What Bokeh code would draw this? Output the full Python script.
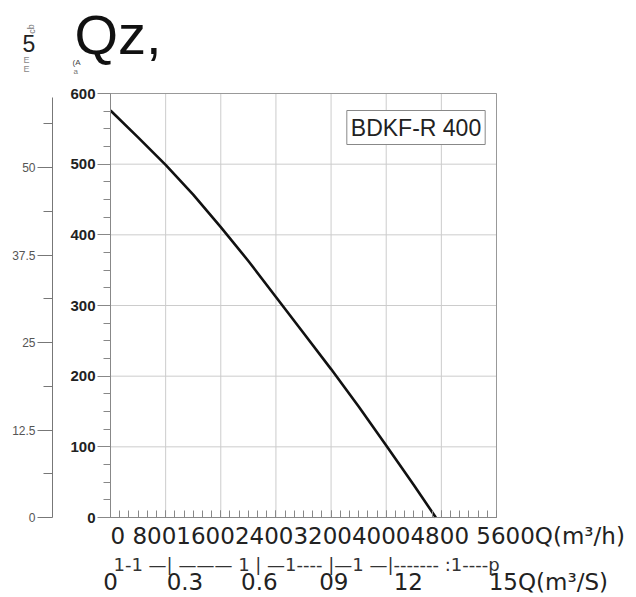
from bokeh.plotting import figure
from bokeh.models import Range1d, LinearAxis, FixedTicker, Label, SingleIntervalTicker
from bokeh.embed import file_html
from bokeh.resources import INLINE

# ---------------- data ----------------
FLOW_M3H = [0, 400, 800, 1200, 1600, 2000, 2400, 2800, 3200, 3600, 4000, 4400, 4720]
PRESSURE_PA = [576, 538, 499, 457, 411, 363, 312, 261, 210, 157, 102, 46, 0]

X_TICKS = [0, 800, 1600, 2400, 3200, 4000, 4800, 5600]
Y_TICKS = [0, 100, 200, 300, 400, 500, 600]
Y2_TICKS = [0, 12.5, 25, 37.5, 50]
Y2_LABELS = ["0", "12.5", "25", "37.5", "50"]
QS_TICKS = [0, 0.3, 0.6, 0.9, 1.2, 1.5]
QS_LABELS = ["0", "0.3", "0.6", "09", "12", "15Q(m³/S)"]
X_UNIT = "Q(m³/h)"
TICK_TRACE_TEXT = "1-1 —|  ———  1 | —1---- |—1  —|------- :1----p"
MODEL = "BDKF-R 400"
TITLE = "Qz,"

# ---------------- geometry (the frame covers the whole canvas) ----------------
XMAX, YMAX, Y2MAX = 5600, 600, 60.6
W, H = 636, 597
BOX_L, BOX_T, BOX_R, BOX_B = 110, 93, 496, 517          # plot box in canvas pixels
XPP = XMAX / (BOX_R - BOX_L)                             # data per pixel (x)
YPP = YMAX / (BOX_B - BOX_T)                             # data per pixel (y)
Y2PP = Y2MAX / (BOX_B - BOX_T)

x_range = Range1d(-BOX_L * XPP, (W - BOX_L) * XPP)
y_range = Range1d(-(H - BOX_B) * YPP, BOX_B * YPP)

p = figure(width=W, height=H, x_range=x_range, y_range=y_range,
           output_backend="svg", toolbar_location=None,
           min_border_left=0, min_border_right=0, min_border_top=0, min_border_bottom=0,
           background_fill_color="white", border_fill_color="white")
p.extra_y_ranges = {"y2": Range1d(-(H - BOX_B) * Y2PP, BOX_B * Y2PP)}
p.outline_line_color = None
p.grid.visible = False

# grid lines + plot box, from the tick arrays
p.segment(x0=X_TICKS, y0=[0] * len(X_TICKS), x1=X_TICKS, y1=[YMAX] * len(X_TICKS),
          line_color="#cccccc", line_width=1, level="underlay")
p.segment(x0=[0] * len(Y_TICKS), y0=Y_TICKS, x1=[XMAX] * len(Y_TICKS), y1=Y_TICKS,
          line_color="#cccccc", line_width=1, level="underlay")
p.quad(left=[0], right=[XMAX], bottom=[0], top=[YMAX], fill_color=None,
       line_color="#999999", line_width=1)

# x axis (ticks only)
xt = SingleIntervalTicker(interval=X_TICKS[1] - X_TICKS[0], num_minor_ticks=6)
xa = p.xaxis[0]
xa.ticker = xt
xa.fixed_location = 0
xa.bounds = (0, XMAX)
xa.axis_line_color = "#888888"
xa.major_tick_line_color = "#888888"
xa.minor_tick_line_color = "#888888"
xa.major_tick_in = 7
xa.major_tick_out = 0
xa.minor_tick_in = 7
xa.minor_tick_out = 0
xa.major_label_text_color = None

# main y axis
yt = SingleIntervalTicker(interval=Y_TICKS[1] - Y_TICKS[0], num_minor_ticks=4)
ya = p.yaxis[0]
ya.ticker = yt
ya.fixed_location = 0
ya.bounds = (0, YMAX)
ya.axis_line_color = "#888888"
ya.major_tick_line_color = "#888888"
ya.minor_tick_line_color = "#888888"
ya.major_tick_out = 13
ya.major_tick_in = 0
ya.minor_tick_out = 7
ya.minor_tick_in = 0
ya.major_label_standoff = 2
ya.major_label_text_font = "Liberation Sans"
ya.major_label_text_font_style = "bold"
ya.major_label_text_font_size = "15px"
ya.major_label_text_color = "#222222"

# secondary y axis
y2 = LinearAxis(y_range_name="y2",
                ticker=FixedTicker(ticks=Y2_TICKS, minor_ticks=[t + 6.25 for t in Y2_TICKS]),
                major_label_overrides={t: s for t, s in zip(Y2_TICKS, Y2_LABELS)})
y2.fixed_location = (52 - BOX_L) * XPP
y2.bounds = (0, 60)
y2.axis_line_color = "#777777"
y2.major_tick_line_color = "#777777"
y2.minor_tick_line_color = "#777777"
y2.major_tick_out = 15
y2.major_tick_in = 0
y2.minor_tick_out = 9
y2.minor_tick_in = 0
y2.major_label_standoff = 2
y2.major_label_text_font = "Liberation Sans"
y2.major_label_text_font_size = "12px"
y2.major_label_text_color = "#555555"
p.add_layout(y2, "left")

# curve
p.line(FLOW_M3H, PRESSURE_PA, line_color="#111111", line_width=2.6)


def text(x, y, s, size, font="DejaVu Sans", color="#222222", align="left", angle=0.0,
         baseline="alphabetic", **kw):
    # y is the wanted baseline; the renderer sets alphabetic text ~0.42em lower
    yy = y - 0.42 * size if baseline == "alphabetic" else y
    p.add_layout(Label(x=x, y=yy, x_units="canvas", y_units="canvas", text=s,
                       text_font=font, text_font_size=f"{size}px", text_color=color,
                       text_align=align, text_baseline=baseline, angle=angle, **kw))


# model label box
text(415.5, 127, MODEL, 23, font="Liberation Sans", align="center", baseline="middle",
     border_line_color="#888888", background_fill_color="white", padding=4)

# first flow-axis text line (m3/h)
x_line = str(X_TICKS[0]) + " " + "".join(str(t) for t in X_TICKS[1:7]) + " " + str(X_TICKS[7]) + X_UNIT
text(110, 545, x_line, 23)

# tick trace line
text(113, 572, TICK_TRACE_TEXT, 18, color="#333333")

# second flow-axis labels (m3/s), placed through the flow scale
for q, s in zip(QS_TICKS, QS_LABELS):
    last = (s == QS_LABELS[-1])
    px = BOX_L + q * 3600 / XPP
    text(px + (6 if last else 0), 591, s, 23, align="left" if last else "center")

# header fragments
text(74, 58, TITLE, 56, font="Liberation Sans", color="#111111")
text(22, 53, "5", 23, font="Liberation Sans")
text(31, 37, "cb", 9, font="Liberation Sans", color="#777777", angle=1.5708)
text(23, 63, "E", 9, font="Liberation Sans", color="#888888")
text(23, 72, "E", 9, font="Liberation Sans", color="#888888")
text(72, 65, "(A", 8, font="Liberation Sans", color="#444444")
text(73, 74, "a", 8, font="Liberation Sans", color="#777777")

open("out.html", "w").write(file_html(p, INLINE))
